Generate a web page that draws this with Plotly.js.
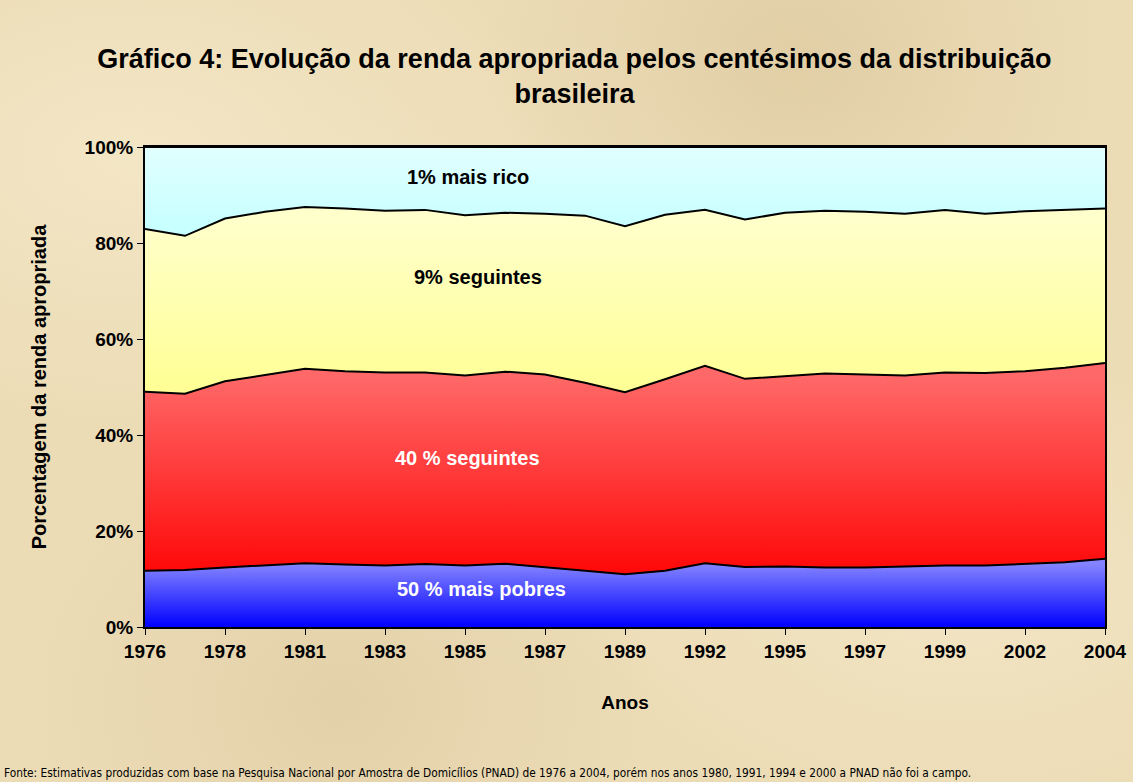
<!DOCTYPE html>
<html>
<head>
<meta charset="utf-8">
<script src="https://cdn.plot.ly/plotly-3.0.1.min.js"></script>
<style>
  html, body { margin: 0; padding: 0; }
  body {
    width: 1133px; height: 782px; overflow: hidden;
    background-color: #ecdcb6;
    background-image:
      radial-gradient(ellipse at 12% 20%, rgba(250,240,212,0.5), rgba(250,240,212,0) 30%),
      radial-gradient(ellipse at 70% 8%, rgba(205,180,135,0.35), rgba(205,180,135,0) 28%),
      radial-gradient(ellipse at 85% 75%, rgba(250,240,212,0.45), rgba(250,240,212,0) 28%),
      radial-gradient(ellipse at 30% 90%, rgba(210,188,145,0.35), rgba(210,188,145,0) 28%),
      radial-gradient(ellipse at 55% 45%, rgba(245,232,200,0.35), rgba(245,232,200,0) 55%);
  }
  #grafico { width: 1133px; height: 782px; }
</style>
</head>
<body>
<div id="grafico"></div>
<script>
// anos da PNAD (1980, 1991, 1994 e 2000 sem pesquisa)
var anos = ['1976', '1977', '1978', '1979', '1981', '1982', '1983', '1984', '1985', '1986',
            '1987', '1988', '1989', '1990', '1992', '1993', '1995', '1996', '1997', '1998',
            '1999', '2001', '2002', '2003', '2004'];
var anosRotulo = ['1976', '1978', '1981', '1983', '1985', '1987', '1989', '1992', '1995',
                  '1997', '1999', '2002', '2004'];

// parcela da renda (%) por grupo
var pobres50 = [11.7, 11.9, 12.4, 12.8, 13.3, 13.0, 12.8, 13.1, 12.8, 13.2,
                12.5, 11.8, 11.0, 11.7, 13.3, 12.5, 12.6, 12.4, 12.4, 12.6,
                12.8, 12.8, 13.1, 13.5, 14.2];
var seguintes40 = [37.3, 36.7, 38.8, 39.7, 40.5, 40.3, 40.2, 39.9, 39.6, 40.0,
                   40.1, 39.1, 37.9, 39.9, 41.1, 39.2, 39.7, 40.4, 40.2, 39.8,
                   40.2, 40.1, 40.2, 40.5, 40.8];
var seguintes9 = [33.9, 32.9, 33.9, 34.0, 33.7, 33.9, 33.7, 33.9, 33.4, 33.1,
                  33.5, 34.8, 34.6, 34.3, 32.5, 33.2, 34.0, 33.9, 33.9, 33.7,
                  33.9, 33.2, 33.3, 32.9, 32.2];
var rico1 = [17.1, 18.5, 14.9, 13.5, 12.5, 12.8, 13.3, 13.1, 14.2, 13.7,
             13.9, 14.3, 16.5, 14.1, 13.1, 15.1, 13.7, 13.3, 13.5, 13.9,
             13.1, 13.9, 13.4, 13.1, 12.8];

var fonte = 'Liberation Sans, Arial, sans-serif';

function camada(nome, valores, cores, ini, fim) {
  return {
    x: anos,
    y: valores,
    name: nome,
    type: 'scatter',
    mode: 'lines',
    stackgroup: 'renda',
    line: {color: '#000000', width: 2},
    fillgradient: {
      type: 'vertical',
      start: ini,
      stop: fim,
      colorscale: [[0, cores[0]], [1, cores[1]]]
    },
    hoverinfo: 'skip'
  };
}

var data = [
  camada('50 % mais pobres', pobres50, ['#0000ff', '#8383ff'], 0, 13),
  camada('40 % seguintes', seguintes40, ['#ff0a0a', '#ff6868'], 12, 52),
  camada('9% seguintes', seguintes9, ['#ffff96', '#ffffcc'], 50, 86),
  camada('1% mais rico', rico1, ['#c8ffff', '#e2ffff'], 84, 100)
];

var rotulo = function (texto, x, y, cor) {
  return {
    text: texto, xref: 'paper', yref: 'y', x: x, y: y,
    showarrow: false, xanchor: 'center', yanchor: 'middle',
    font: {family: fonte, size: 20, color: cor, weight: 'bold'}
  };
};

var layout = {
  width: 1133,
  height: 782,
  paper_bgcolor: 'rgba(0,0,0,0)',
  plot_bgcolor: 'rgba(0,0,0,0)',
  showlegend: false,
  margin: {l: 145, r: 28, t: 147, b: 155},
  title: {
    text: 'Gráfico 4: Evolução da renda apropriada pelos centésimos da distribuição<br>brasileira',
    x: 0.507, y: 0.913, yanchor: 'top',
    font: {family: fonte, size: 27, color: '#000000', weight: 'bold'}
  },
  xaxis: {
    type: 'category',
    categoryorder: 'array',
    categoryarray: anos,
    range: [0, anos.length - 1],
    tickmode: 'array',
    tickvals: anosRotulo,
    ticktext: anosRotulo,
    ticks: 'outside',
    ticklen: 6,
    tickcolor: '#000000',
    showline: true,
    linecolor: '#000000',
    linewidth: 2,
    mirror: true,
    showgrid: false,
    zeroline: false,
    tickfont: {family: fonte, size: 19, color: '#000000', weight: 'bold'},
    title: {text: 'Anos', standoff: 35,
            font: {family: fonte, size: 19, color: '#000000', weight: 'bold'}}
  },
  yaxis: {
    range: [0, 100],
    dtick: 20,
    ticksuffix: '%',
    ticks: 'outside',
    ticklen: 6,
    tickcolor: '#000000',
    showline: true,
    linecolor: '#000000',
    linewidth: 2,
    mirror: true,
    showgrid: false,
    zeroline: false,
    tickfont: {family: fonte, size: 19, color: '#000000', weight: 'bold'},
    title: {text: 'Porcentagem da renda apropriada', standoff: 33,
            font: {family: fonte, size: 20, color: '#000000', weight: 'bold'}}
  },
  annotations: [
    rotulo('1% mais rico', 0.336, 93.8, '#000000'),
    rotulo('9% seguintes', 0.347, 72.9, '#000000'),
    rotulo('40 % seguintes', 0.336, 35.2, '#ffffff'),
    rotulo('50 % mais pobres', 0.35, 7.9, '#ffffff'),
    {
      text: 'Fonte: Estimativas produzidas com base na Pesquisa Nacional por Amostra de Domicílios (PNAD) de 1976 a 2004, porém nos anos 1980, 1991, 1994 e 2000 a PNAD não foi a campo.',
      xref: 'paper', yref: 'paper', x: -143 / 960, y: -146 / 480,
      xanchor: 'left', yanchor: 'middle', showarrow: false,
      font: {family: 'Liberation Sans Narrow, DejaVu Sans Condensed, sans-serif', size: 11.8, color: '#000000'}
    }
  ]
};

Plotly.newPlot('grafico', data, layout, {displayModeBar: false, staticPlot: true});
</script>
</body>
</html>
